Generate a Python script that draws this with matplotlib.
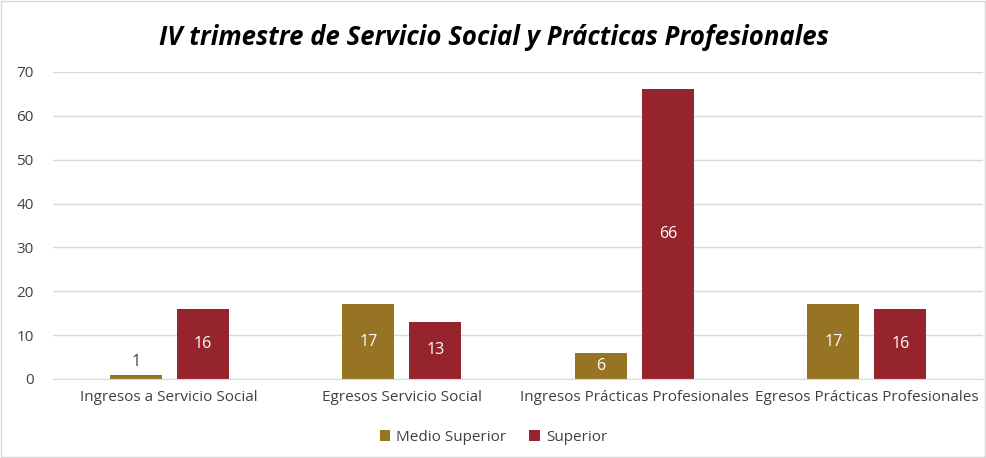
import matplotlib
matplotlib.use("Agg")
import matplotlib.pyplot as plt
import numpy as np
from matplotlib.patches import Rectangle

categories = ["Ingresos a Servicio Social", "Egresos Servicio Social",
              "Ingresos Prácticas Profesionales", "Egresos Prácticas Profesionales"]
medio_superior = [1, 17, 6, 17]
superior = [16, 13, 66, 16]
series_names = ["Medio Superior", "Superior"]
yticks = [0, 10, 20, 30, 40, 50, 60, 70]

c_gold = "#967424"
c_red = "#96242D"

plt.rcParams['font.family'] = ['Open Sans', 'DejaVu Sans']

fig = plt.figure(figsize=(9.87, 4.58), dpi=100)
ax = fig.add_axes([0.0537, 0.1725, 0.9423, 0.6705])

x = np.arange(len(categories))
w = 0.224
off = 0.144
b1 = ax.bar(x - off, medio_superior, w, color=c_gold, label=series_names[0])
b2 = ax.bar(x + off, superior, w, color=c_red, label=series_names[1])

for bars in (b1, b2):
    for r in bars:
        v = r.get_height()
        cx = r.get_x() + r.get_width() / 2
        if v < 4:
            ax.text(cx, v + 1.0, f"{v:g}", ha="center", va="bottom", fontsize=11.5, color="#404040")
        else:
            ax.text(cx, v / 2, f"{v:g}", ha="center", va="center", fontsize=11.5, color="white")

ax.set_xlim(-0.5, len(categories) - 0.5)
ax.set_ylim(0, 70)
ax.set_yticks(yticks)
ax.set_yticklabels([str(t) for t in yticks])
ax.set_xticks(x)
ax.set_xticklabels(categories)
ax.tick_params(axis="both", length=0, labelsize=11, labelcolor="#404040")
ax.tick_params(axis="y", pad=14)
ax.tick_params(axis="x", pad=8)
ax.grid(axis="y", color="#d9d9d9", linewidth=1)
ax.set_axisbelow(True)
for s in ["top", "right", "left"]:
    ax.spines[s].set_visible(False)
ax.spines["bottom"].set_color("#d9d9d9")

fig.text(0.5, 0.918, "IV trimestre de Servicio Social y Prácticas Profesionales",
         ha="center", va="center", fontsize=18.5, fontweight="bold", fontstyle="italic",
         color="black")

leg = fig.legend(handles=[b1, b2], labels=series_names, loc="center",
                 bbox_to_anchor=(0.5, 0.045), ncol=2, frameon=False, fontsize=11,
                 handlelength=0.7, handleheight=0.7, handletextpad=0.4, columnspacing=1.5)
for t in leg.get_texts():
    t.set_color("#404040")

fig.patches.append(Rectangle((0.001, 0.002), 0.997, 0.995, transform=fig.transFigure,
                             fill=False, edgecolor="#d9d9d9", linewidth=1))

fig.savefig("out.png", dpi=100)
